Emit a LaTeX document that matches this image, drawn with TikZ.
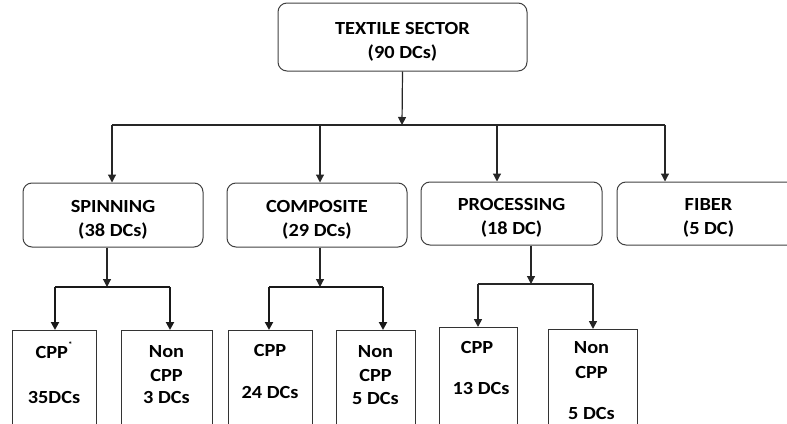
\documentclass[tikz,border=0pt]{standalone}
\usepackage{fontspec}
\setmainfont[FakeStretch=1.1]{Carlito}
\usetikzlibrary{arrows.meta}
\newcommand{\toppad}{\rule{0pt}{21pt}}
\begin{document}
\begin{tikzpicture}[x=1pt,y=-1pt,
  font=\bfseries\fontsize{18.5}{24}\selectfont,
  box/.style={draw=black!75, line width=1pt, rounded corners=9pt, align=center, inner sep=0pt, text=black},
  leaf/.style={draw=black!80, line width=1pt, inner sep=0pt, minimum height=130pt},
  txt/.style={inner sep=0pt, text=black},
  link/.style={line width=1.2pt, draw=black!85},
  arr/.style={link, -{Triangle[width=8pt,length=8pt]}},
  heavy/.style={line width=2.2pt, draw=black!90},
  heavyarr/.style={heavy, -{Triangle[width=8pt,length=8pt]}}
]
\useasboundingbox (0,0) rectangle (787,423);
\clip (0,0) rectangle (787,423);

% root
\node[box, minimum width=249pt, minimum height=68pt] (top) at (402.5,37) {\toppad TEXTILE SECTOR\\(90 DCs)};

% sectors
\node[box, minimum width=180pt, minimum height=64pt] (spin) at (113,215) {\toppad SPINNING\\(38 DCs)};
\node[box, minimum width=180pt, minimum height=64pt] (comp) at (317,215) {\toppad COMPOSITE\\(29 DCs)};
\node[box, minimum width=181pt, minimum height=63pt] (proc) at (511.5,213.5) {\toppad PROCESSING\\(18 DC)};
\node[box, minimum width=183pt, minimum height=63pt] (fiber) at (708.5,213.5) {\toppad FIBER\\(5 DC)};

% leaf boxes (run past the lower edge)
\node[leaf, minimum width=84pt, anchor=north] (cpp1) at (54,330) {};
\node[leaf, minimum width=91pt, anchor=north] (non1) at (166.5,330) {};
\node[leaf, minimum width=84pt, anchor=north] (cpp2) at (270,330) {};
\node[leaf, minimum width=79pt, anchor=north] (non2) at (375.5,330) {};
\node[leaf, minimum width=78pt, anchor=north] (cpp3) at (478,327) {};
\node[leaf, minimum width=89pt, anchor=north] (non3) at (592.5,329) {};

% leaf texts
\node[txt] (t1a) at (54,350) {CPP\raisebox{1.2ex}{\fontsize{8}{8}\selectfont *}};
\node[txt] (t1b) at (54,397) {35DCs};
\node[txt] (t2a) at (166.5,352) {Non};
\node[txt] (t2b) at (166.5,375) {CPP};
\node[txt] (t2c) at (166.5,397) {3 DCs};
\node[txt] (t3a) at (270,350) {CPP};
\node[txt] (t3b) at (270,392) {24 DCs};
\node[txt] (t4a) at (375.5,352) {Non};
\node[txt] (t4b) at (375.5,375) {CPP};
\node[txt] (t4c) at (375.5,398) {5 DCs};
\node[txt] (t5a) at (477,347) {CPP};
\node[txt] (t5b) at (481,388) {13 DCs};
\node[txt] (t6a) at (591.5,348) {Non};
\node[txt] (t6b) at (591.5,372) {CPP};
\node[txt] (t6c) at (591.5,413) {5 DCs};

% main bus
\coordinate (bc) at (402,125);
\coordinate (b1) at (112,125);
\coordinate (b2) at (320,125);
\coordinate (b3) at (497,125);
\coordinate (b4) at (665,125);
\draw[arr] (top.south) -- (bc);
\draw[link] (b1) -- (b4);
\draw[arr] (b1) -- (b1 |- spin.north);
\draw[arr] (b2) -- (b2 |- comp.north);
\draw[arr] (b3) -- (b3 |- proc.north);
\draw[arr] (b4) -- (b4 |- fiber.north);

% spinning branch
\coordinate (s0) at (107,287);
\coordinate (s1) at (55,287);
\coordinate (s2) at (170,287);
\draw[arr] (s0 |- spin.south) -- (s0);
\draw[heavy] (s1) -- (s2);
\draw[heavyarr] (s1) -- (s1 |- cpp1.north);
\draw[heavyarr] (s2) -- (s2 |- non1.north);

% composite branch
\coordinate (c0) at (320,287);
\coordinate (c1) at (269,287);
\coordinate (c2) at (383,287);
\draw[arr] (c0 |- comp.south) -- (c0);
\draw[heavy] (c1) -- (c2);
\draw[heavyarr] (c1) -- (c1 |- cpp2.north);
\draw[heavyarr] (c2) -- (c2 |- non2.north);

% processing branch
\coordinate (p0) at (531,284);
\coordinate (p1) at (478,284);
\coordinate (p2) at (593,284);
\draw[arr] (p0 |- proc.south) -- (p0);
\draw[link, line width=1.6pt] (p1) -- (p2);
\draw[arr, line width=1.6pt] (p1) -- (p1 |- cpp3.north);
\draw[arr, line width=1.6pt] (p2) -- (p2 |- non3.north);
\end{tikzpicture}
\end{document}
